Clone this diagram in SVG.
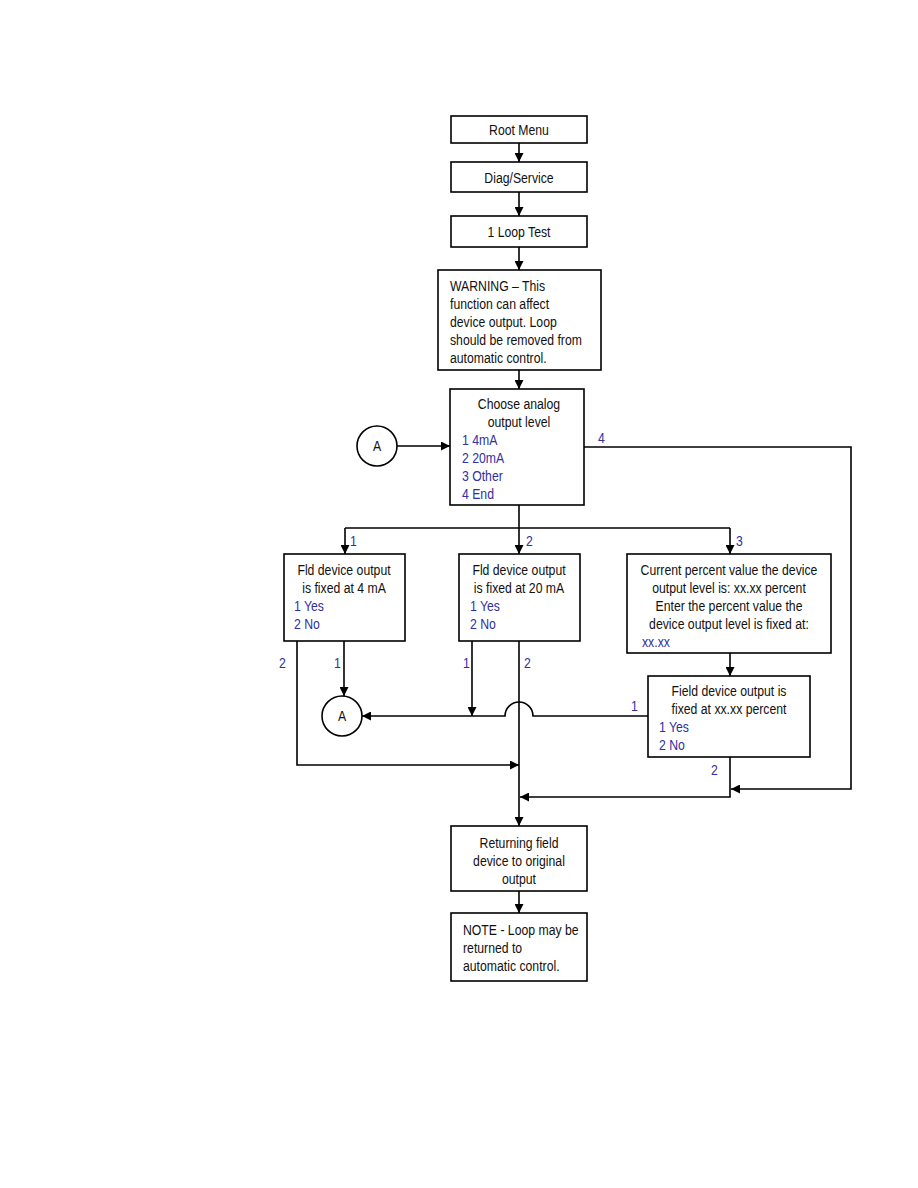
<svg xmlns="http://www.w3.org/2000/svg" width="918" height="1188" viewBox="0 0 918 1188">
<defs>
<marker id="ah" viewBox="0 0 10 10" refX="10" refY="5" markerWidth="9" markerHeight="9" markerUnits="userSpaceOnUse" orient="auto">
<path d="M0,0 L10,5 L0,10 z" fill="#000"/>
</marker>
<style>
.box{fill:#fff;stroke:#000;stroke-width:1.6}
.t{font-family:"Liberation Sans",Arial,sans-serif;font-size:15.5px;fill:#111}
.c{text-anchor:middle}
.b{fill:#3030a0}
.ln{fill:none;stroke:#000;stroke-width:1.6}
.ar{marker-end:url(#ah)}
</style>
</defs>
<rect width="918" height="1188" fill="#fff"/>
<g id="connectors">
<line class="ln ar" x1="519" y1="143" x2="519" y2="162"/>
<line class="ln ar" x1="519" y1="192" x2="519" y2="216"/>
<line class="ln ar" x1="519" y1="247" x2="519" y2="270"/>
<line class="ln ar" x1="519" y1="370" x2="519" y2="389"/>
<line class="ln ar" x1="397" y1="446" x2="450" y2="446"/>
<polyline class="ln ar" points="584,447 851,447 851,789 731,789"/>
<line class="ln" x1="519" y1="505" x2="519" y2="528"/>
<line class="ln" x1="345" y1="528" x2="730" y2="528"/>
<line class="ln ar" x1="345" y1="528" x2="345" y2="554"/>
<line class="ln ar" x1="519" y1="528" x2="519" y2="554"/>
<line class="ln ar" x1="730" y1="528" x2="730" y2="554"/>
<line class="ln ar" x1="730" y1="653" x2="730" y2="676"/>
<line class="ln ar" x1="344" y1="641" x2="344" y2="696"/>
<polyline class="ln ar" points="297,641 297,765 519,765"/>
<line class="ln ar" x1="472" y1="641" x2="472" y2="716"/>
<path class="ln ar" d="M648,716 L533,716 A14,14 0 0 0 505,716 L362,716"/>
<line class="ln ar" x1="519" y1="641" x2="519" y2="826"/>
<polyline class="ln ar" points="730,757 730,797 520,797"/>
<line class="ln ar" x1="519" y1="891" x2="519" y2="913"/>
<text class="t b" transform="translate(598,443) scale(.79,1)">4</text>
<text class="t b" transform="translate(350,546) scale(.79,1)">1</text>
<text class="t b" transform="translate(526,546) scale(.79,1)">2</text>
<text class="t b" transform="translate(736,546) scale(.79,1)">3</text>
<text class="t b" transform="translate(279,668) scale(.79,1)">2</text>
<text class="t b" transform="translate(334,668) scale(.79,1)">1</text>
<text class="t b" transform="translate(463,668) scale(.79,1)">1</text>
<text class="t b" transform="translate(524,668) scale(.79,1)">2</text>
<text class="t b" transform="translate(631,711) scale(.79,1)">1</text>
<text class="t b" transform="translate(711,775) scale(.79,1)">2</text>
</g>
<g id="root">
<rect class="box" x="451" y="116" width="136" height="27"/>
<text class="t c" transform="translate(519,135) scale(.79,1)">Root Menu</text>
</g>
<g id="diag">
<rect class="box" x="451" y="162" width="136" height="30"/>
<text class="t c" transform="translate(519,183) scale(.79,1)">Diag/Service</text>
</g>
<g id="looptest">
<rect class="box" x="451" y="216" width="136" height="31"/>
<text class="t c" transform="translate(519,237) scale(.79,1)">1 Loop Test</text>
</g>
<g id="warning">
<rect class="box" x="438" y="270" width="163" height="100"/>
<text class="t" transform="translate(450,291) scale(.79,1)">WARNING – This</text>
<text class="t" transform="translate(450,309) scale(.79,1)">function can affect</text>
<text class="t" transform="translate(450,327) scale(.79,1)">device output. Loop</text>
<text class="t" transform="translate(450,345) scale(.79,1)">should be removed from</text>
<text class="t" transform="translate(450,363) scale(.79,1)">automatic control.</text>
</g>
<g id="choose">
<rect class="box" x="450" y="389" width="134" height="116"/>
<text class="t c" transform="translate(519,409) scale(.79,1)">Choose analog</text>
<text class="t c" transform="translate(519,427) scale(.79,1)">output level</text>
<text class="t b" transform="translate(462,445) scale(.79,1)">1 4mA</text>
<text class="t b" transform="translate(462,463) scale(.79,1)">2 20mA</text>
<text class="t b" transform="translate(462,481) scale(.79,1)">3 Other</text>
<text class="t b" transform="translate(462,499) scale(.79,1)">4 End</text>
</g>
<g id="circleA1">
<circle cx="377" cy="446" r="20" fill="#fff" stroke="#000" stroke-width="1.6"/>
<text class="t c" transform="translate(377,451) scale(.79,1)">A</text>
</g>
<g id="fixed4">
<rect class="box" x="284" y="554" width="121" height="87"/>
<text class="t c" transform="translate(344,575) scale(.79,1)">Fld device output</text>
<text class="t c" transform="translate(344,593) scale(.79,1)">is fixed at 4 mA</text>
<text class="t b" transform="translate(294,611) scale(.79,1)">1 Yes</text>
<text class="t b" transform="translate(294,629) scale(.79,1)">2 No</text>
</g>
<g id="fixed20">
<rect class="box" x="459" y="554" width="121" height="87"/>
<text class="t c" transform="translate(519,575) scale(.79,1)">Fld device output</text>
<text class="t c" transform="translate(519,593) scale(.79,1)">is fixed at 20 mA</text>
<text class="t b" transform="translate(470,611) scale(.79,1)">1 Yes</text>
<text class="t b" transform="translate(470,629) scale(.79,1)">2 No</text>
</g>
<g id="other">
<rect class="box" x="627" y="554" width="204" height="99"/>
<text class="t c" transform="translate(729,575) scale(.79,1)">Current percent value the device</text>
<text class="t c" transform="translate(729,593) scale(.79,1)">output level is: xx.xx percent</text>
<text class="t c" transform="translate(729,611) scale(.79,1)">Enter the percent value the</text>
<text class="t c" transform="translate(729,629) scale(.79,1)">device output level is fixed at:</text>
<text class="t b" transform="translate(642,647) scale(.79,1)">xx.xx</text>
</g>
<g id="fieldfixed">
<rect class="box" x="648" y="676" width="162" height="81"/>
<text class="t c" transform="translate(729,696) scale(.79,1)">Field device output is</text>
<text class="t c" transform="translate(729,714) scale(.79,1)">fixed at xx.xx percent</text>
<text class="t b" transform="translate(659,732) scale(.79,1)">1 Yes</text>
<text class="t b" transform="translate(659,750) scale(.79,1)">2 No</text>
</g>
<g id="circleA2">
<circle cx="342" cy="716" r="20" fill="#fff" stroke="#000" stroke-width="1.6"/>
<text class="t c" transform="translate(342,721) scale(.79,1)">A</text>
</g>
<g id="returning">
<rect class="box" x="451" y="826" width="136" height="65"/>
<text class="t c" transform="translate(519,848) scale(.79,1)">Returning field</text>
<text class="t c" transform="translate(519,866) scale(.79,1)">device to original</text>
<text class="t c" transform="translate(519,884) scale(.79,1)">output</text>
</g>
<g id="note">
<rect class="box" x="451" y="913" width="136" height="68"/>
<text class="t" transform="translate(463,935) scale(.79,1)">NOTE - Loop may be</text>
<text class="t" transform="translate(463,953) scale(.79,1)">returned to</text>
<text class="t" transform="translate(463,971) scale(.79,1)">automatic control.</text>
</g>
</svg>
